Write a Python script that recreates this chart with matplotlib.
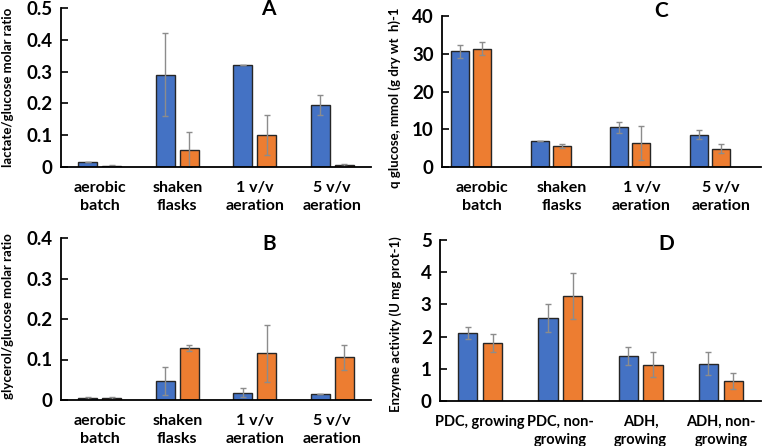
import numpy as np
import matplotlib
matplotlib.use("Agg")
import matplotlib.pyplot as plt

plt.rcParams["font.family"] = ["Lato", "DejaVu Sans"]
plt.rcParams["font.weight"] = "bold"

BLUE = "#4472C4"
ORANGE = "#ED7D31"

conditions = ["aerobic\nbatch", "shaken\nflasks", "1 v/v\naeration", "5 v/v\naeration"]
enzymes = ["PDC, growing", "PDC, non-\ngrowing", "ADH,\ngrowing", "ADH, non-\ngrowing"]

# panel A: lactate/glucose
lac_blue = [0.015, 0.29, 0.32, 0.196]
lac_blue_err = [0.0, 0.13, 0.0, 0.031]
lac_orange = [0.004, 0.055, 0.101, 0.007]
lac_orange_err = [0.002, 0.055, 0.062, 0.004]

# panel B: glycerol/glucose
gly_blue = [0.005, 0.047, 0.018, 0.015]
gly_blue_err = [0.002, 0.034, 0.011, 0.0]
gly_orange = [0.005, 0.128, 0.115, 0.106]
gly_orange_err = [0.002, 0.008, 0.071, 0.031]

# panel C: q glucose
qg_blue = [30.6, 6.9, 10.5, 8.6]
qg_blue_err = [1.8, 0.1, 1.5, 1.2]
qg_orange = [31.3, 5.5, 6.4, 4.8]
qg_orange_err = [1.7, 0.5, 4.5, 1.2]

# panel D: enzyme activity
enz_blue = [2.11, 2.58, 1.41, 1.16]
enz_blue_err = [0.19, 0.43, 0.28, 0.36]
enz_orange = [1.80, 3.26, 1.13, 0.63]
enz_orange_err = [0.28, 0.70, 0.39, 0.25]

W, H = 762, 446
fig = plt.figure(figsize=(W / 100, H / 100), dpi=100)


def add_ax(left, right, top, bottom):
    return fig.add_axes([left / W, 1 - bottom / H, (right - left) / W, (bottom - top) / H])


def draw(ax, labels, b, be, o, oe, ylim, step, ylabel, letter, letter_xy,
         offs=(-0.155, 0.155), width=0.245, xfs=11.5):
    x = np.arange(len(labels))
    ek = dict(ecolor="#8c8c8c", elinewidth=1.0, capsize=2, capthick=1.0)
    ax.bar(x + offs[0], b, width, color=BLUE, edgecolor="#262626", linewidth=1.0,
           yerr=be, error_kw=ek)
    ax.bar(x + offs[1], o, width, color=ORANGE, edgecolor="#262626", linewidth=1.0,
           yerr=oe, error_kw=ek)
    ax.set_xlim(-0.5, len(labels) - 0.5)
    ax.set_ylim(*ylim)
    ax.set_yticks(np.arange(ylim[0], ylim[1] + step / 2, step))
    if step < 1:
        ax.set_yticklabels([("0" if v == 0 else f"{v:.1f}") for v in ax.get_yticks()])
    ax.set_xticks(x)
    ax.set_xticklabels(labels, fontsize=xfs, fontweight="bold", linespacing=1.4)
    ax.tick_params(axis="x", length=0, pad=10)
    ax.tick_params(axis="y", direction="in", length=5, labelsize=13.5, width=1.2, pad=6)
    for t in ax.get_yticklabels():
        t.set_fontweight("bold")
    for s in ["top", "right"]:
        ax.spines[s].set_visible(False)
    for s in ["left", "bottom"]:
        ax.spines[s].set_linewidth(1.3)
        ax.spines[s].set_color("black")
    ax.set_ylabel(ylabel, fontsize=9.5, fontweight="bold")
    ax.text(letter_xy[0], letter_xy[1], letter, transform=ax.transAxes, fontsize=15,
            fontweight="bold", ha="center", va="center")


axA = add_ax(61, 371, 8, 167)
draw(axA, conditions, lac_blue, lac_blue_err, lac_orange, lac_orange_err,
     (0, 0.5), 0.1, "lactate/glucose molar ratio", "A", (0.668, 0.994))
axA.yaxis.set_label_coords(-0.152, 0.5)

axC = add_ax(442, 761, 16, 167)
draw(axC, conditions, qg_blue, qg_blue_err, qg_orange, qg_orange_err,
     (0, 40), 10, "q glucose, mmol (g dry wt  h)-1", "C", (0.687, 1.033),
     offs=(-0.275, 0.0), width=0.225)
axC.yaxis.set_label_coords(-0.13, 0.46)

axB = add_ax(61, 371, 238, 400)
draw(axB, conditions, gly_blue, gly_blue_err, gly_orange, gly_orange_err,
     (0, 0.4), 0.1, "glycerol/glucose molar ratio", "B", (0.671, 0.963))
axB.yaxis.set_label_coords(-0.152, 0.52)

axD = add_ax(440, 761, 240, 401)
draw(axD, enzymes, enz_blue, enz_blue_err, enz_orange, enz_orange_err,
     (0, 5), 1, "Enzyme activity (U mg prot-1)", "D", (0.704, 0.975), width=0.24,
     xfs=10.5)
axD.yaxis.set_label_coords(-0.118, 0.48)

fig.savefig("out.png", dpi=100)
